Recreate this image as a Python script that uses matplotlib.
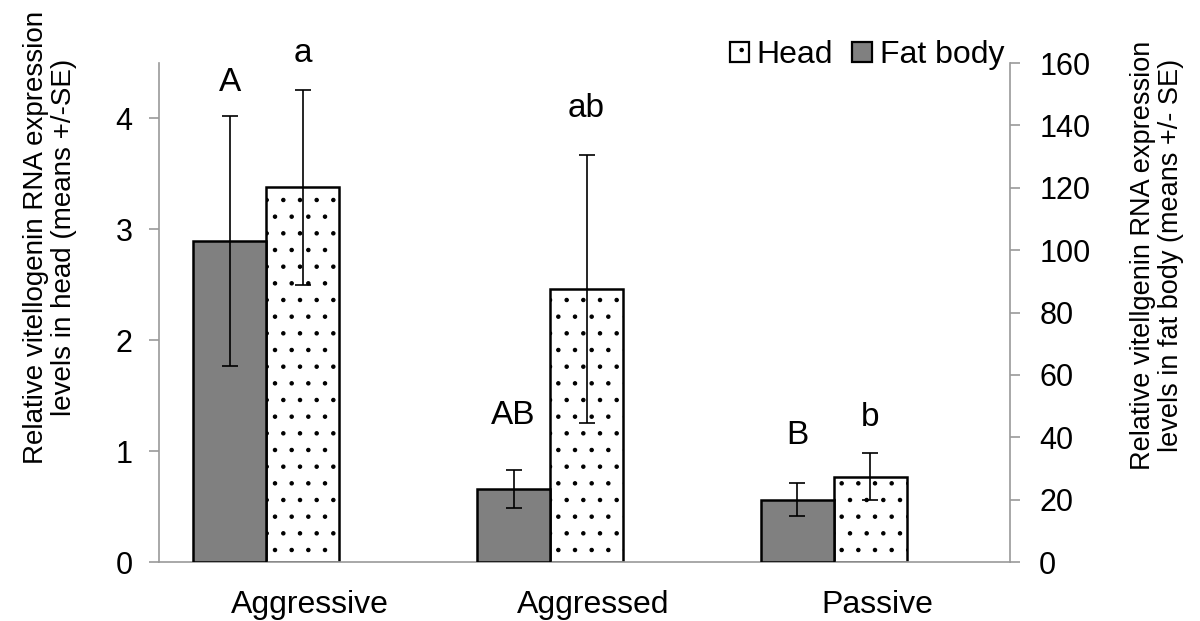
import matplotlib
matplotlib.use("Agg")
import matplotlib.pyplot as plt
import matplotlib.patches as mpatches
import numpy as np

plt.rcParams['font.family'] = ['Liberation Sans', 'DejaVu Sans']
plt.rcParams['hatch.color'] = '#7a7a7a'
plt.rcParams['hatch.linewidth'] = 0.8

# data
groups = ['Aggressive', 'Aggressed', 'Passive']
head_mean = [3.38, 2.46, 0.77]
head_se = [0.88, 1.21, 0.21]
fat_mean = [103, 23.5, 20]
fat_se = [40, 6.1, 5.2]
fat_letters = ['A', 'AB', 'B']
head_letters = ['a', 'ab', 'b']
# letter heights (left axis units)
fat_letter_y = [4.32, 1.32, 1.14]
head_letter_y = [4.59, 4.09, 1.30]

x = np.arange(len(groups))
w = 0.257
axis_grey = '#9a9a9a'

fig = plt.figure(figsize=(12, 6.21), dpi=100)
ax1 = fig.add_axes([0.1325, 0.095, 0.7092, 0.8035])
ax2 = ax1.twinx()

# head bars on left axis
ax1.bar(x + 0.007, head_mean, w, color='white', edgecolor='black',
        linewidth=1.8, hatch='.', zorder=2)
ax1.errorbar(x + 0.007, head_mean, yerr=head_se, fmt='none', ecolor='black',
             elinewidth=1.2, capsize=5.5, capthick=1.2, zorder=3)

# fat body bars on right axis
ax2.bar(x - 0.25, fat_mean, w, color='#808080', edgecolor='black',
        linewidth=1.8, zorder=2)
ax2.errorbar(x - 0.25, fat_mean, yerr=fat_se, fmt='none', ecolor='black',
             elinewidth=1.2, capsize=5.5, capthick=1.2, zorder=3)

ax1.set_xlim(-0.5, 2.5)
ax1.set_ylim(0, 4.5)
ax2.set_ylim(0, 160)
ax1.set_yticks([0, 1, 2, 3, 4])
ax2.set_yticks(np.arange(0, 161, 20))
ax1.set_xticks(x + 0.032)
ax1.set_xticklabels(groups)

for ax in (ax1, ax2):
    ax.spines['top'].set_visible(False)
    for s in ax.spines.values():
        s.set_color(axis_grey)
        s.set_linewidth(1.2)
ax1.spines['right'].set_visible(False)
ax2.spines['left'].set_visible(False)
ax2.spines['bottom'].set_visible(False)

ax1.tick_params(axis='y', direction='out', length=7, width=1.2, color=axis_grey,
                labelsize=22, pad=12)
ax2.tick_params(axis='y', direction='out', length=7, width=1.2, color=axis_grey,
                labelsize=22, pad=14)
ax1.tick_params(axis='x', length=0, labelsize=23, pad=20)

ax1.set_ylabel('Relative vitellogenin RNA expression\nlevels in head (means +/-SE)',
               fontsize=20, linespacing=1.1)
ax2.set_ylabel('Relative vitellgenin RNA expression\nlevels in fat body (means +/- SE)',
               fontsize=19.5, linespacing=1.1)
ax1.yaxis.set_label_coords(-0.0964, 0.651)
ax2.yaxis.set_label_coords(1.141, 0.615)

# significance letters
for i in range(len(groups)):
    ax1.text(x[i] - 0.25, fat_letter_y[i], fat_letters[i], ha='center',
             va='center', fontsize=24)
    ax1.text(x[i] + 0.007, head_letter_y[i], head_letters[i], ha='center',
             va='center', fontsize=24)

h_head = mpatches.Patch(facecolor='white', edgecolor='black', hatch='.', linewidth=1.6)
h_fat = mpatches.Patch(facecolor='#808080', edgecolor='black', linewidth=1.6)
fig.legend([h_head, h_fat], ['Head', 'Fat body'], loc='center right',
           bbox_to_anchor=(1004 / 1200, 1 - 55 / 621), ncol=2, frameon=False,
           fontsize=23, handlelength=0.6, handleheight=0.6, handletextpad=0.25,
           columnspacing=0.6, borderpad=0, borderaxespad=0)

fig.savefig('out.png', dpi=100)
